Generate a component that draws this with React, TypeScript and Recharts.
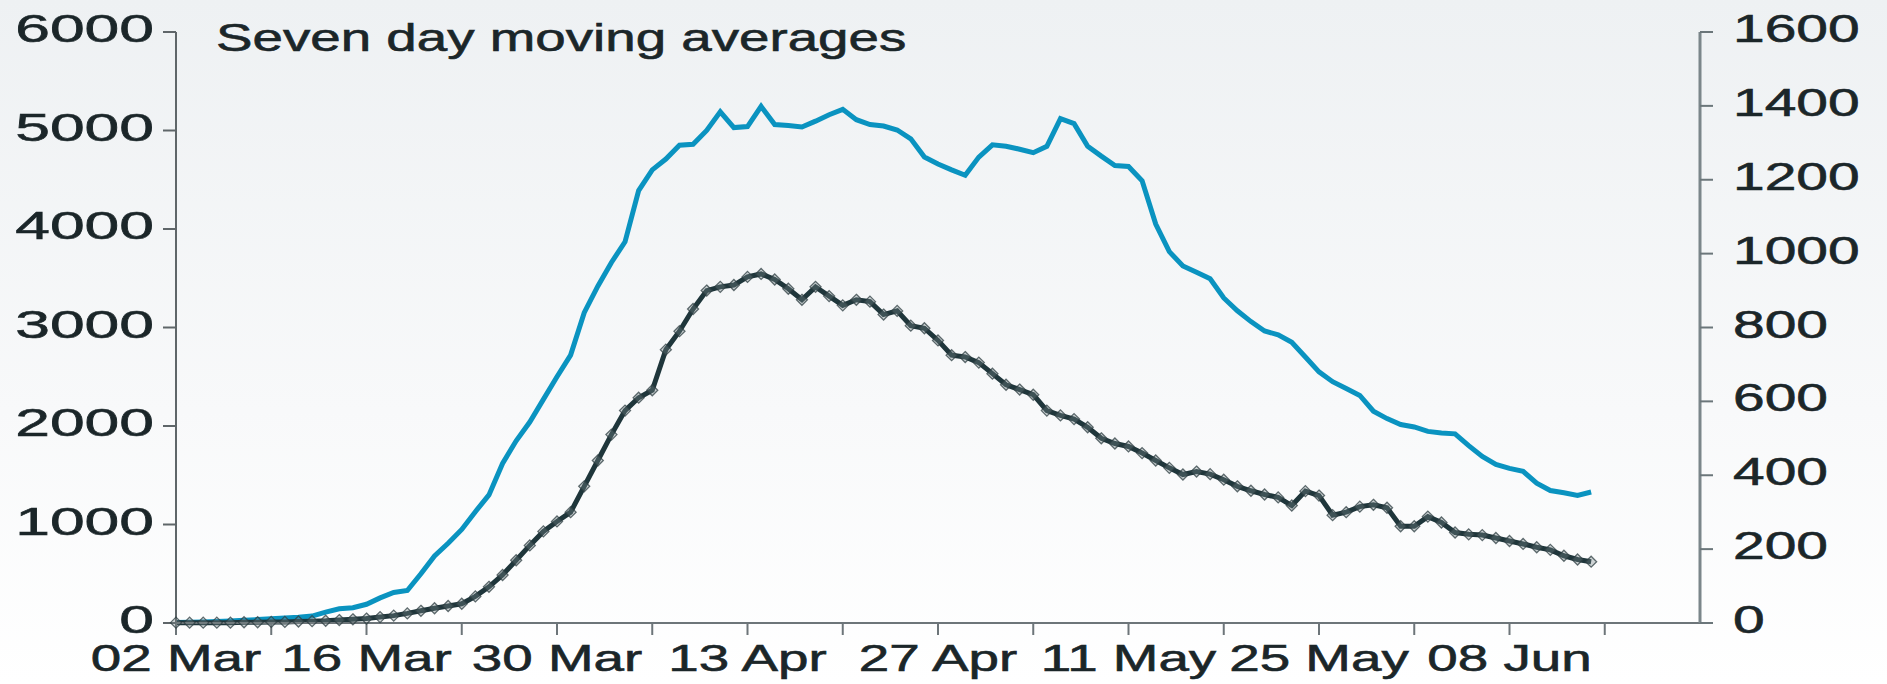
import React from "react";
import { Line, LineChart, XAxis, YAxis } from "recharts";

// seven day moving averages, one value per day from 02 Mar (day 0)
const cases = [
  5, 7, 10, 14, 20, 27, 35, 42, 50, 58,
  70, 110, 145, 155, 190, 255, 310, 330, 500, 680,
  810, 950, 1130, 1300, 1620, 1850, 2040, 2270, 2500, 2720,
  3150, 3420, 3660, 3870, 4390, 4600, 4710, 4850, 4860, 5000,
  5190, 5030, 5040, 5245, 5060, 5050, 5035, 5095, 5160, 5215,
  5110, 5060, 5045, 5005, 4915, 4730, 4660, 4600, 4545, 4730,
  4855, 4840, 4810, 4775, 4840, 5120, 5070, 4840, 4740, 4645,
  4635, 4490, 4050, 3770, 3625, 3560, 3495, 3300, 3170, 3060,
  2965, 2925, 2850, 2700, 2550, 2450, 2380, 2310, 2150, 2075,
  2015, 1990, 1945, 1930, 1920, 1800, 1690, 1610, 1570, 1540,
  1420, 1345, 1322, 1295, 1330,
];

const deaths = [
  1, 1, 1, 1, 1, 2, 2, 3, 3, 4,
  5, 6, 8, 10, 12, 16, 20, 26, 33, 40,
  46, 52, 72, 98, 130, 170, 210, 248, 275, 300,
  370, 440, 510, 575, 610, 630, 740, 790, 850, 900,
  910, 915, 937, 945, 930, 905, 875, 910, 885, 860,
  875, 870, 835, 845, 805, 798, 765, 725, 720, 705,
  675, 645, 632, 618, 575, 562, 552, 530, 500, 486,
  478, 460, 440, 420, 402, 410, 403, 388, 370, 358,
  348, 340, 318, 357, 345, 292, 300, 315, 320, 312,
  262, 262, 288, 272, 245, 240, 238, 230, 222, 214,
  205, 198, 182, 172, 166,
];

const weekLabels = [
  "02 Mar", "", "16 Mar", "", "30 Mar", "", "13 Apr", "",
  "27 Apr", "", "11 May", "", "25 May", "", "08 Jun", "",
];
const leftTicks = [0, 1000, 2000, 3000, 4000, 5000, 6000];
const rightTicks = [0, 200, 400, 600, 800, 1000, 1200, 1400, 1600];

const rows = cases.map((c, i) => ({ day: i, cases: c, deaths: deaths[i] }));
const weekTicks = weekLabels.map((_, i) => i * 7);

const FONT = "'Liberation Sans', Arial, sans-serif";
const INK = "#1b2629";

function Stretch({ x, y, text, anchor, size, sx }: any) {
  return (
    <g transform={`translate(${x},${y})`}>
      <text
        transform={`scale(${sx},1)`}
        textAnchor={anchor}
        fontSize={size}
        fontFamily={FONT}
        fill={INK}
        stroke={INK}
        strokeWidth={0.6}
      >
        {text}
      </text>
    </g>
  );
}

const XTick = ({ x, y, index }: any) => (
  <Stretch x={x} y={y + 34} text={weekLabels[index]} anchor="middle" size={37} sx={1.48} />
);
const LeftTick = ({ x, y, payload }: any) => (
  <Stretch x={x} y={y + 10} text={String(payload.value)} anchor="end" size={39} sx={1.6} />
);
const RightTick = ({ x, y, payload }: any) => (
  <Stretch x={x} y={y + 10} text={String(payload.value)} anchor="start" size={39} sx={1.46} />
);

const Diamond = ({ cx, cy }: any) => {
  if (cx == null || cy == null) return null;
  const r = 5.5;
  return (
    <path
      d={`M${cx},${cy - r}L${cx + r},${cy}L${cx},${cy + r}L${cx - r},${cy}Z`}
      fill="rgba(120,135,138,0.35)"
      stroke="rgba(45,62,66,0.75)"
      strokeWidth={1.3}
    />
  );
};

export default function App() {
  return (
    <div
      style={{
        position: "absolute",
        left: 0,
        top: 0,
        width: 1887,
        height: 684,
        background: "linear-gradient(#eef1f3, #f8f9fa 60%, #ffffff)",
        overflow: "hidden",
      }}
    >
      <LineChart
        width={1887}
        height={684}
        data={rows}
        margin={{ top: 32, right: 0, bottom: 0, left: 0 }}
      >
        <XAxis
          dataKey="day"
          type="number"
          domain={[0, 112]}
          ticks={weekTicks}
          interval={0}
          height={61}
          tickSize={12}
          tick={<XTick />}
          axisLine={{ stroke: "#6d7579", strokeWidth: 2 }}
          tickLine={{ stroke: "#6d7579", strokeWidth: 2 }}
        />
        <YAxis
          yAxisId="left"
          domain={[0, 6000]}
          ticks={leftTicks}
          interval={0}
          width={176}
          tickSize={13}
          tickMargin={9}
          tick={<LeftTick />}
          axisLine={{ stroke: "#5f6669", strokeWidth: 2 }}
          tickLine={{ stroke: "#5f6669", strokeWidth: 2 }}
        />
        <YAxis
          yAxisId="right"
          orientation="right"
          domain={[0, 1600]}
          ticks={rightTicks}
          interval={0}
          width={187}
          tickSize={13}
          tickMargin={20}
          tick={<RightTick />}
          axisLine={{ stroke: "#7b868a", strokeWidth: 3 }}
          tickLine={{ stroke: "#6b767a", strokeWidth: 2 }}
        />
        <Line
          yAxisId="left"
          dataKey="cases"
          stroke="#0a93c0"
          strokeWidth={5}
          dot={false}
          isAnimationActive={false}
        />
        <Line
          yAxisId="right"
          dataKey="deaths"
          stroke="#1f363b"
          strokeWidth={5}
          dot={<Diamond />}
          isAnimationActive={false}
        />
      </LineChart>
      <svg
        width={1887}
        height={684}
        style={{ position: "absolute", left: 0, top: 0, pointerEvents: "none" }}
      >
        <Stretch x={216} y={51} text="Seven day moving averages" anchor="start" size={38} sx={1.44} />
      </svg>
    </div>
  );
}
